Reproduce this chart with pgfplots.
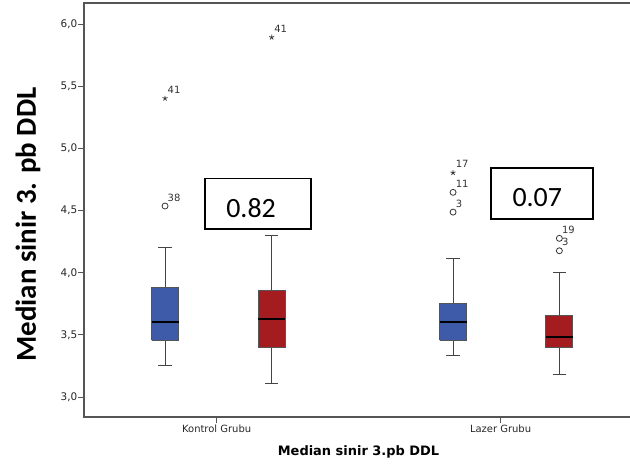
\documentclass[border=0pt]{standalone}
\usepackage{pgfplots}
\pgfplotsset{compat=1.18}
\usepackage{fontspec}
\setmainfont{DejaVu Sans}
\newfontfamily\carlito{Carlito}
\definecolor{kblue}{HTML}{3D5BA8}
\definecolor{kred}{HTML}{A51C20}
\definecolor{framegray}{HTML}{555555}
\definecolor{whisk}{HTML}{444444}
\begin{document}
\begin{tikzpicture}
\useasboundingbox (-84bp,-47bp) rectangle (546bp,417bp);
\begin{axis}[
  at={(0,0)}, anchor=south west,
  scale only axis, width=549bp, height=414bp,
  xmin=0.533, xmax=2.4412, ymin=2.84, ymax=6.17,
  clip=false,
  axis line style={draw=framegray, line width=1.3bp},
  tick style={draw=framegray, line width=1bp},
  tick align=outside, major tick length=6bp,
  xtick={0.994,1.981}, xticklabels={Kontrol Grubu, Lazer Grubu},
  ytick={3,3.5,4,4.5,5,5.5,6},
  yticklabel style={/pgf/number format/fixed, /pgf/number format/fixed zerofill,
    /pgf/number format/precision=1, /pgf/number format/use comma,
    /pgf/number format/assume math mode=true,
    font=\fontsize{10.5}{12}\selectfont, text=black!85, inner sep=0pt, xshift=-0.5bp},
  xticklabel style={font=\fontsize{10}{12}\selectfont, text=black!85, inner sep=0pt, yshift=-2bp},
  xtick pos=bottom, ytick pos=left,
  xlabel={\bfseries Median sinir 3.pb DDL},
  xlabel style={font=\fontsize{13}{15}\selectfont, at={(axis description cs:0.500,-0.0942)}, anchor=base},
  ylabel={\carlito\bfseries Median sinir 3. pb DDL},
  ylabel style={font=\fontsize{29}{34}\selectfont, at={(axis description cs:-0.1021,0.465)}, anchor=center, rotate=0},
  whisker/.style={draw=whisk, line width=1bp, mark=none},
  boxbody/.style={draw=framegray, line width=1bp, mark=none},
  medianline/.style={draw=black, line width=2bp, mark=none},
]
% ---------- whiskers (stem + cap) ----------
% Kontrol blue: LW 3.255, Q1 3.456, Med 3.601, Q3 3.885, UW 4.204
\addplot[whisker] coordinates {(0.8147,3.885) (0.8147,4.204)};
\addplot[whisker] coordinates {(0.7912,4.204) (0.8382,4.204)};
\addplot[whisker] coordinates {(0.8147,3.456) (0.8147,3.255)};
\addplot[whisker] coordinates {(0.7912,3.255) (0.8382,3.255)};
% Kontrol red: LW 3.107, Q1 3.402, Med 3.625, Q3 3.858, UW 4.303
\addplot[whisker] coordinates {(1.1853,3.858) (1.1853,4.303)};
\addplot[whisker] coordinates {(1.1618,4.303) (1.2088,4.303)};
\addplot[whisker] coordinates {(1.1853,3.402) (1.1853,3.107)};
\addplot[whisker] coordinates {(1.1618,3.107) (1.2088,3.107)};
% Lazer blue: LW 3.335, Q1 3.456, Med 3.601, Q3 3.756, UW 4.113
\addplot[whisker] coordinates {(1.8158,3.756) (1.8158,4.113)};
\addplot[whisker] coordinates {(1.7923,4.113) (1.8393,4.113)};
\addplot[whisker] coordinates {(1.8158,3.456) (1.8158,3.335)};
\addplot[whisker] coordinates {(1.7923,3.335) (1.8393,3.335)};
% Lazer red: LW 3.185, Q1 3.397, Med 3.480, Q3 3.654, UW 4.003
\addplot[whisker] coordinates {(2.1853,3.654) (2.1853,4.003)};
\addplot[whisker] coordinates {(2.1618,4.003) (2.2088,4.003)};
\addplot[whisker] coordinates {(2.1853,3.397) (2.1853,3.185)};
\addplot[whisker] coordinates {(2.1618,3.185) (2.2088,3.185)};
% ---------- boxes (Q1 to Q3) ----------
\addplot[boxbody, fill=kblue] coordinates {(0.7677,3.456) (0.8617,3.456) (0.8617,3.885) (0.7677,3.885) (0.7677,3.456)};
\addplot[boxbody, fill=kred]  coordinates {(1.1383,3.402) (1.2323,3.402) (1.2323,3.858) (1.1383,3.858) (1.1383,3.402)};
\addplot[boxbody, fill=kblue] coordinates {(1.7688,3.456) (1.8628,3.456) (1.8628,3.756) (1.7688,3.756) (1.7688,3.456)};
\addplot[boxbody, fill=kred]  coordinates {(2.1383,3.397) (2.2323,3.397) (2.2323,3.654) (2.1383,3.654) (2.1383,3.397)};
% ---------- medians ----------
\addplot[medianline] coordinates {(0.7677,3.601) (0.8617,3.601)};
\addplot[medianline] coordinates {(1.1383,3.625) (1.2323,3.625)};
\addplot[medianline] coordinates {(1.7688,3.601) (1.8628,3.601)};
\addplot[medianline] coordinates {(2.1383,3.480) (2.2323,3.480)};
% outliers (circles)
\addplot[only marks, mark=o, mark size=3bp, mark options={draw=black!80, line width=0.8bp}]
  coordinates {(0.8147,4.537) (1.8158,4.647) (1.8158,4.488) (2.1853,4.277) (2.1853,4.177)};
% extremes (stars)
\addplot[only marks, mark=star, mark size=2.6bp, mark options={draw=black!80, line width=0.8bp}]
  coordinates {(0.8147,5.403) (1.1853,5.894) (1.8158,4.805)};
% outlier labels
\begin{scope}[every node/.style={font=\fontsize{10}{12}\selectfont, text=black!80, inner sep=0pt, anchor=base west, xshift=2.5bp, yshift=5bp}]
\node at (axis cs:0.8147,4.537) {38};
\node at (axis cs:0.8147,5.403) {41};
\node at (axis cs:1.1853,5.894) {41};
\node at (axis cs:1.8158,4.805) {17};
\node at (axis cs:1.8158,4.647) {11};
\node at (axis cs:1.8158,4.488) {3};
\node at (axis cs:2.1853,4.277) {19};
\node at (axis cs:2.1853,4.177) {3};
\end{scope}
% p-value boxes
\draw[line width=1.8bp, fill=white, line join=miter] (axis cs:0.9538,4.349) rectangle (axis cs:1.3212,4.759);
\node[font=\carlito\fontsize{28}{32}\selectfont, inner sep=0pt] at (axis cs:1.1137,4.522) {0.82};
\draw[line width=1.8bp, fill=white, line join=miter] (axis cs:1.9468,4.432) rectangle (axis cs:2.3014,4.845);
\node[font=\carlito\fontsize{28}{32}\selectfont, inner sep=0pt] at (axis cs:2.1084,4.603) {0.07};
\end{axis}
\end{tikzpicture}
\end{document}
